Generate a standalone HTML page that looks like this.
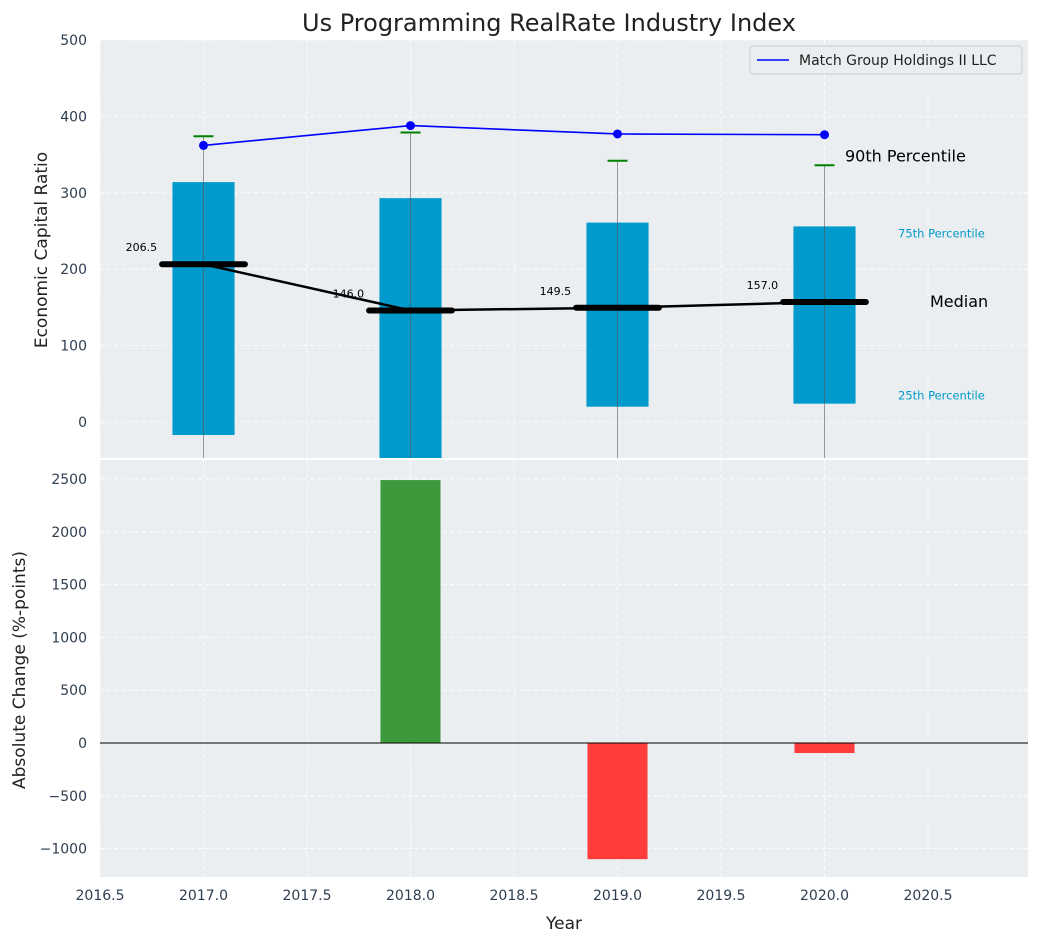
<!DOCTYPE html>
<html><head><meta charset="utf-8"><style>
body{margin:0;background:#fff;font-family:"Liberation Sans","DejaVu Sans",sans-serif}
svg text{font-family:"DejaVu Sans","Liberation Sans",sans-serif}
</style></head><body>
<svg id="c" width="1039" height="942" xmlns="http://www.w3.org/2000/svg"></svg>
<script>
const years=[2017,2018,2019,2020];
const q1=[-17,-60,20,24];
const q3=[314,293,261,256];
const medians=[206.5,146.0,149.5,157.0];
const whiskerHi=[374,379,342,336];
const whiskerLo=[-100,-100,-100,-100];
const companyVals=[362,388,377,376];
const changes=[0,2490,-1100,-95];
const xTicks=[2016.5,2017,2017.5,2018,2018.5,2019,2019.5,2020,2020.5];
const yTopTicks=[0,100,200,300,400,500];
const yBotTicks=[-1000,-500,0,500,1000,1500,2000,2500];

const NS="http://www.w3.org/2000/svg";
const svg=document.getElementById('c');
const L=100,R=1028;
const X=v=>L+(v-2016.5)*207;
const T0=40,T1=458,B0=460,B1=877;
const YT=v=>422-v*0.764;
const YB=v=>743-v*0.1056;
function el(t,a,p){const e=document.createElementNS(NS,t);for(const k in a)e.setAttribute(k,a[k]);(p||svg).appendChild(e);return e;}
function tx(s,a,p){const e=el('text',a,p);e.textContent=s;return e;}

const topPanel=el('g',{});


el('rect',{x:L,y:T0,width:R-L,height:T1-T0,fill:'#eaeef0'},topPanel);
const botPanel=el('g',{});


el('rect',{x:L,y:B0,width:R-L,height:B1-B0,fill:'#eaeef0'},botPanel);
const defs=el('defs',{});
const cp=el('clipPath',{id:'ct'},defs);
el('rect',{x:L,y:T0,width:R-L,height:T1-T0},cp);

xTicks.forEach(v=>{
 el('line',{x1:X(v),x2:X(v),y1:T0,y2:T1,stroke:'#fff','stroke-dasharray':'4,3','stroke-width':0.8},topPanel);
 el('line',{x1:X(v),x2:X(v),y1:B0,y2:B1,stroke:'#fff','stroke-dasharray':'4,3','stroke-width':0.8},botPanel);
 const t=tx(v.toFixed(1),{x:X(v),y:900,'font-size':14,fill:'#2e3e50','text-anchor':'middle'});
 
 
});
yTopTicks.forEach(v=>{
 el('line',{x1:L,x2:R,y1:YT(v),y2:YT(v),stroke:'#fff','stroke-dasharray':'4,3','stroke-width':0.8},topPanel);
 const t=tx(String(v),{x:87,y:YT(v)+5,'font-size':14,fill:'#2e3e50','text-anchor':'end'});
 
 
});
yBotTicks.forEach(v=>{
 el('line',{x1:L,x2:R,y1:YB(v),y2:YB(v),stroke:'#fff','stroke-dasharray':'4,3','stroke-width':0.8},botPanel);
 const t=tx(v<0?'\u2212'+(-v):String(v),{x:87,y:YB(v)+5,'font-size':14,fill:'#2e3e50','text-anchor':'end'});
 
 
});

const tg=el('g',{'clip-path':'url(#ct)'},topPanel);
years.forEach((y,i)=>{
 const xc=X(y),hw=0.15*207;
 const b=el('rect',{x:xc-hw,y:YT(q3[i]),width:2*hw,height:YT(q1[i])-YT(q3[i]),fill:'#009acd'},tg);
 
 
 el('line',{x1:xc,x2:xc,y1:YT(whiskerHi[i]),y2:YT(whiskerLo[i]),stroke:'#555','stroke-opacity':0.6,'stroke-width':1},tg);
 const c=el('line',{x1:xc-10,x2:xc+10,y1:YT(whiskerHi[i]),y2:YT(whiskerHi[i]),stroke:'green','stroke-width':2},tg);
 
 
});
el('polyline',{points:years.map((y,i)=>X(y)+','+YT(medians[i])).join(' '),fill:'none',stroke:'#000','stroke-width':2.5},tg);
years.forEach((y,i)=>{
 const m=el('line',{x1:X(y-0.2),x2:X(y+0.2),y1:YT(medians[i]),y2:YT(medians[i]),stroke:'#000','stroke-width':6,'stroke-linecap':'round'},tg);
 
 
 const t=tx(medians[i].toFixed(1),{x:X(y-0.3),y:YT(medians[i])-13,'font-size':11,fill:'#000','text-anchor':'middle'},tg);
 
 
});
const pl=el('polyline',{points:years.map((y,i)=>X(y)+','+YT(companyVals[i])).join(' '),fill:'none',stroke:'blue','stroke-width':1.6},tg);


years.forEach((y,i)=>{
 const p=el('circle',{cx:X(y),cy:YT(companyVals[i]),r:4.5,fill:'blue'},tg);
 
 
});

const lastI=years.length-1;
tx('90th Percentile',{x:845,y:YT(whiskerHi[lastI])-4,'font-size':16,fill:'#000'},topPanel);
tx('75th Percentile',{x:898,y:YT(q3[lastI])+11,'font-size':11.5,fill:'#009acd'},topPanel);
tx('Median',{x:930,y:YT(medians[lastI])+5,'font-size':16,fill:'#000'},topPanel);
tx('25th Percentile',{x:898,y:YT(q1[lastI])-4,'font-size':11.5,fill:'#009acd'},topPanel);

const lg=el('g',{},topPanel);


el('rect',{x:750,y:46,width:272,height:28,rx:3,fill:'#eaeef0',stroke:'#ccc'},lg);
el('line',{x1:757,x2:789,y1:60,y2:60,stroke:'blue','stroke-width':1.6},lg);
tx('Match Group Holdings II LLC',{x:799,y:65,'font-size':14,fill:'#222'},lg);

years.forEach((y,i)=>{
 if(!changes[i])return;
 const v=changes[i];
 const r=el('rect',{x:X(y-0.145),y:Math.min(YB(v),YB(0)),width:0.29*207,height:Math.abs(YB(v)-YB(0)),fill:v>0?'#3c9a3c':'#ff3c3c'},botPanel);
 
 
});
el('line',{x1:L,x2:R,y1:YB(0),y2:YB(0),stroke:'#000','stroke-width':1},botPanel);

const tt=tx('Us Programming RealRate Industry Index',{x:549,y:31,'font-size':24,fill:'#222','text-anchor':'middle'});


const yl=tx('Economic Capital Ratio',{x:0,y:0,'font-size':17,fill:'#222','text-anchor':'middle',transform:'translate(47,250) rotate(-90)'});


const yl2=tx('Absolute Change (%-points)',{x:0,y:0,'font-size':17,fill:'#222','text-anchor':'middle',transform:'translate(25,670) rotate(-90)'});


const xl=tx('Year',{x:564,y:929,'font-size':17,fill:'#222','text-anchor':'middle'});


</script>
</body></html>
